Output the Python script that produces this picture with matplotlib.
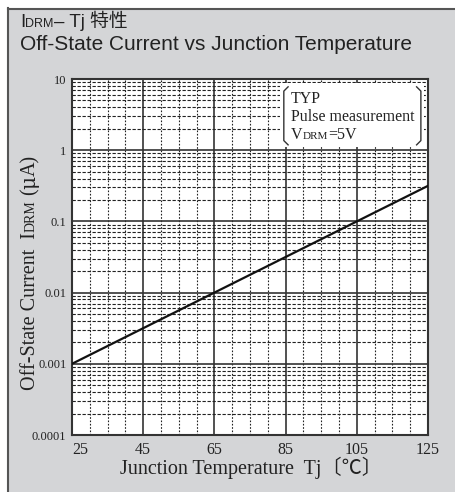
"""IDRM - Tj characteristic: off-state current vs junction temperature."""

import matplotlib

matplotlib.use("Agg")
import matplotlib.pyplot as plt
import numpy as np
from matplotlib.patches import Rectangle
from matplotlib.ticker import FixedLocator, LogLocator, NullFormatter

# data (straight line on log scale)
tj = [25, 65, 105, 125]
idrm = [0.001, 0.01, 0.1, 0.316]

x_major = [25, 45, 65, 85, 105, 125]
y_major = [1e-4, 1e-3, 1e-2, 1e-1, 1, 10]
y_labels = ["0.0001", "0.001", "0.01", "0.1", "1", "10"]

SERIF = ["Liberation Serif", "Noto Sans CJK JP", "DejaVu Serif"]
SANS = ["Liberation Sans", "Noto Sans CJK JP", "DejaVu Sans"]

W, H, DPI = 4.55, 4.92, 100
fig = plt.figure(figsize=(W, H), dpi=DPI)
fig.patch.set_facecolor("white")

px = lambda v: v / (W * DPI)
py = lambda v: v / (H * DPI)

# grey panel with a dark edge on the top/left
fig.patches.append(
    Rectangle((px(7), 0), 1 - px(7) + 0.01, 1 - py(8), transform=fig.transFigure,
              facecolor="#d4d5d7", edgecolor="none", zorder=-5)
)
fig.lines.append(plt.Line2D([px(7.5), px(7.5)], [0, 1 - py(8)], transform=fig.transFigure,
                            color="#555555", lw=1.5, zorder=-4))
fig.lines.append(plt.Line2D([px(7.5), 1], [1 - py(8.5), 1 - py(8.5)], transform=fig.transFigure,
                            color="#555555", lw=1.5, zorder=-4))

ax = fig.add_axes([px(72), 1 - py(435), px(356), py(356)])
ax.set_zorder(2)
ax.set_facecolor("white")
ax.set_yscale("log")
ax.set_xlim(25, 125)
ax.set_ylim(1e-4, 10)

ax.xaxis.set_major_locator(FixedLocator(x_major))
ax.xaxis.set_minor_locator(FixedLocator(np.arange(25, 126, 5)))
ax.yaxis.set_major_locator(FixedLocator(y_major))
ax.yaxis.set_minor_locator(LogLocator(base=10, subs=np.arange(2, 10)))
ax.yaxis.set_minor_formatter(NullFormatter())
ax.set_yticklabels(y_labels)
ax.tick_params(which="both", length=0)
ax.tick_params(axis="x", pad=5)
ax.tick_params(axis="y", pad=4)
for lab in ax.get_xticklabels():
    lab.set_fontfamily(SERIF)
    lab.set_fontsize(11.5)
    lab.set_color("#222222")
for lab in ax.get_yticklabels():
    lab.set_fontfamily(SERIF)
    lab.set_fontsize(9)
    lab.set_color("#222222")
ax.get_xticklabels()[0].set_horizontalalignment("left")

ax.grid(which="major", color="#333333", lw=1.2)
ax.grid(which="minor", axis="x", color="#222222", lw=0.8, linestyle=(0, (1.5, 1.5)))
ax.grid(which="minor", axis="y", color="#222222", lw=0.8, linestyle=(0, (3, 1.5)))
ax.set_axisbelow(True)
for sp in ax.spines.values():
    sp.set_color("#333333")
    sp.set_linewidth(1.5)

ax.plot(tj, idrm, color="#111111", lw=1.6, zorder=3)

# condition box
ax.add_patch(Rectangle((0.585, 0.81), 0.405, 0.18, transform=ax.transAxes,
                       facecolor="white", edgecolor="none", zorder=4))
bx0, bx1, by0, by1, hook = 0.595, 0.98, 0.815, 0.978, 0.012
ax.plot([bx0 + hook, bx0, bx0, bx0 + hook], [by1, by1 - hook, by0 + hook, by0],
        transform=ax.transAxes, color="#333333", lw=1.0, zorder=5)
ax.plot([bx1 - hook, bx1, bx1, bx1 - hook], [by1, by1 - hook, by0 + hook, by0],
        transform=ax.transAxes, color="#333333", lw=1.0, zorder=5)


def chain(x, y, parts, rotation=0):
    """Write text pieces one after another (pixel coords, y from top)."""
    renderer = fig.canvas.get_renderer()
    for s, size, fam in parts:
        t = fig.text(px(x), 1 - py(y), s, fontsize=size, family=fam,
                     rotation=rotation, rotation_mode="anchor",
                     ha="left", va="baseline", color="#222222", zorder=6)
        bb = t.get_window_extent(renderer)
        if rotation == 0:
            x += bb.width
        else:
            y -= bb.height


chain(291, 103, [("TYP", 11.5, SERIF)])
chain(291, 121, [("Pulse measurement", 11.5, SERIF)])
chain(291, 139, [("V", 11.5, SERIF), ("DRM", 8, SERIF), ("=5V", 11.5, SERIF)])

# title
chain(20, 27, [("I", 13.5, SANS), ("DRM", 9, SANS), ("– Tj 特性", 13.5, SANS)])
chain(20, 50, [("Off-State Current vs Junction Temperature", 15, SANS)])

# axis labels
chain(120, 474, [("Junction Temperature  Tj〔℃〕", 14.5, SERIF)])
chain(35, 390, [("Off-State Current  I", 14.5, SERIF), ("DRM", 10, SERIF),
                (" (", 14.5, SERIF), ("μ", 14.5, ["DejaVu Serif"]), ("A)", 14.5, SERIF)],
      rotation=90)

fig.savefig("out.png", dpi=DPI)
